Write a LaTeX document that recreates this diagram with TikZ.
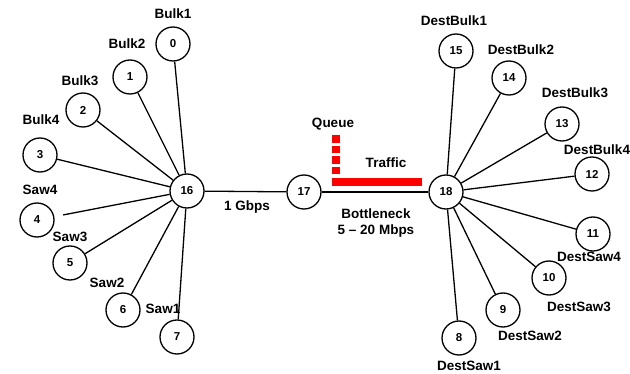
\documentclass[tikz,border=0pt]{standalone}
\usepackage{fontspec}
\setmainfont{Liberation Sans}
\begin{document}
\begin{tikzpicture}[x=1pt,y=-1pt,
  nd/.style={circle,draw=black,line width=1.3pt,minimum size=34pt,inner sep=0pt,fill=white,font=\fontsize{11.5}{11.5}\selectfont\bfseries},
  lb/.style={font=\fontsize{13.5}{13.5}\selectfont\bfseries,inner sep=0pt},
  ln/.style={line width=1.3pt},
  q/.style={fill=red,draw=none}]
\useasboundingbox (0,0) rectangle (630,374);
% hubs
\node[nd] (n16) at (187,191) {16};
\node[nd] (n17) at (304,192) {17};
\node[nd] (n18) at (446,192) {18};
% left leaves
\node[nd] (n0) at (173,44) {0};
\node[nd] (n1) at (130,77) {1};
\node[nd] (n2) at (83,110) {2};
\node[nd] (n3) at (40,155) {3};
\node[nd] (n4) at (37,220) {4};
\node[nd] (n5) at (70,263) {5};
\node[nd] (n6) at (123,310) {6};
\node[nd] (n7) at (177,337) {7};
% right leaves
\node[nd] (n15) at (456,51) {15};
\node[nd] (n14) at (509,78) {14};
\node[nd] (n13) at (562,124) {13};
\node[nd] (n12) at (592,174) {12};
\node[nd] (n11) at (593,234) {11};
\node[nd] (n10) at (549,278) {10};
\node[nd] (n9) at (503,310) {9};
\node[nd] (n8) at (459,338) {8};
% connectors
\foreach \a in {n0,n1,n2,n3,n5,n6,n7} \draw[ln] (\a) -- (n16);
\draw[ln,shorten <=9pt] (n4) -- (n16);
\foreach \a in {n15,n14,n13,n12,n11,n10,n9,n8} \draw[ln] (\a) -- (n18);
\draw[ln] (n16) -- (n17);
\draw[ln] (n17) -- (n18);
% labels
\node[lb] (l0) at (173,14) {Bulk1};
\node[lb] (l1) at (127,44) {Bulk2};
\node[lb] (l2) at (80,81) {Bulk3};
\node[lb] (l3) at (41,120) {Bulk4};
\node[lb] (l4) at (40,190) {Saw4};
\node[lb] (l5) at (70,237) {Saw3};
\node[lb] (l6) at (107,283) {Saw2};
\node[lb] (l7) at (163,309) {Saw1};
\node[lb] (l15) at (454,21) {DestBulk1};
\node[lb] (l14) at (521,50) {DestBulk2};
\node[lb] (l13) at (575,93) {DestBulk3};
\node[lb] (l12) at (597,150) {DestBulk4};
\node[lb] (l11) at (589,257) {DestSaw4};
\node[lb] (l10) at (579,307) {DestSaw3};
\node[lb] (l9) at (530,336) {DestSaw2};
\node[lb] (l8) at (469,366) {DestSaw1};
\node[lb] (gb) at (247,207) {1 Gbps};
\node[lb] (qu) at (333,124) {Queue};
\node[lb] (tr) at (386,163) {Traffic};
\node[lb] (bn) at (376,214) {Bottleneck};
\node[lb] (mb) at (376,231) {5 -- 20 Mbps};
% queue
\fill[q] (332,135) rectangle (340,143);
\fill[q] (332,146) rectangle (340,153);
\fill[q] (332,156) rectangle (340,164);
\fill[q] (332,167) rectangle (340,174);
\fill[q] (332,178) rectangle (422,186);
\end{tikzpicture}
\end{document}
